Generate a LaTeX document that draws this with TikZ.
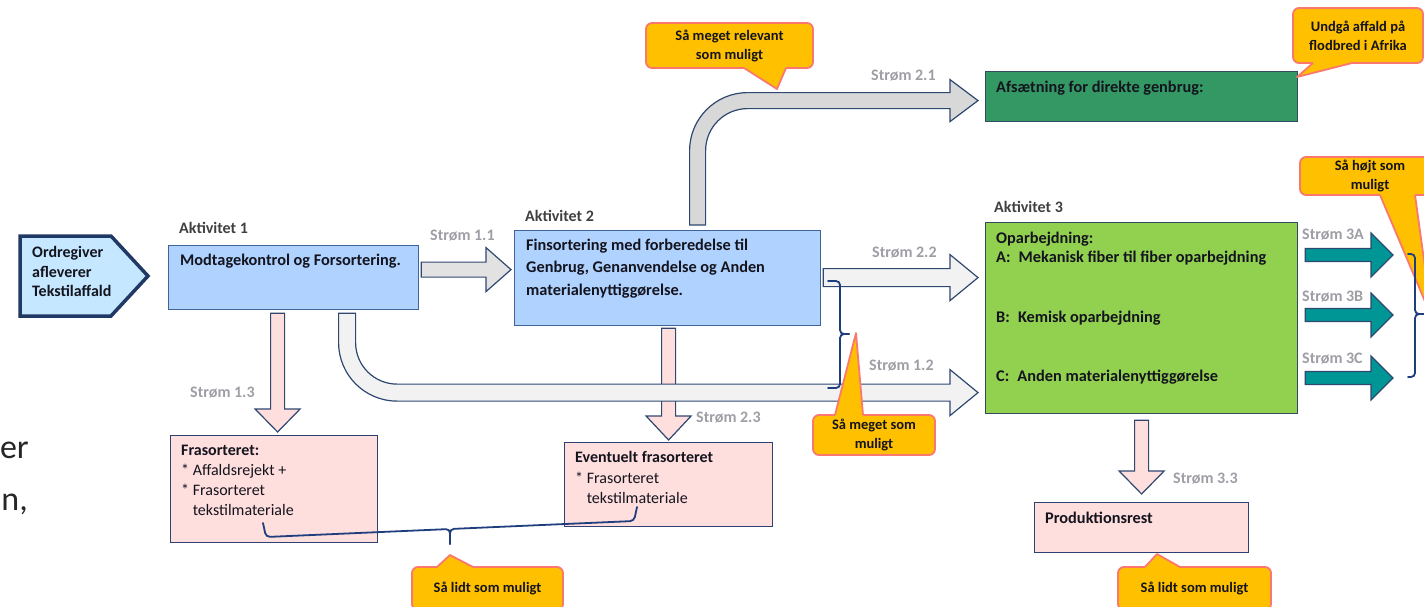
\documentclass[tikz,border=0pt]{standalone}
\usepackage{fontspec}
\setmainfont{Carlito}
\usetikzlibrary{calc}

\definecolor{boxblue}{RGB}{175,210,255}
\definecolor{boxblueedge}{RGB}{65,100,150}
\definecolor{srcfill}{RGB}{197,231,255}
\definecolor{navy}{RGB}{31,56,100}
\definecolor{greenA}{RGB}{52,152,101}
\definecolor{greenB}{RGB}{146,208,80}
\definecolor{greenedge}{RGB}{50,75,95}
\definecolor{pinkfill}{RGB}{255,222,222}
\definecolor{pinkedge}{RGB}{45,65,115}
\definecolor{arrowedge}{RGB}{47,72,112}
\definecolor{grayA}{RGB}{226,226,226}
\definecolor{grayB}{RGB}{216,216,216}
\definecolor{grayC}{RGB}{242,242,242}
\definecolor{tealfill}{RGB}{0,150,150}
\definecolor{callfill}{RGB}{255,192,0}
\definecolor{calledge}{RGB}{250,120,110}
\definecolor{flowgray}{RGB}{158,158,165}
\definecolor{actgray}{RGB}{64,64,64}
\definecolor{inktext}{RGB}{20,20,30}
\definecolor{bracecol}{RGB}{31,62,125}

\newcommand{\setfs}[2]{\fontsize{#1}{#2}\selectfont}

% block arrow pointing right: style, start, tip, shaft half width, head half width, head length
\newcommand{\rarrow}[6]{%
  \draw[#1] let \p1=(#2), \p2=(#3) in
    (\x1,{\y2+#4pt}) -- ({\x2-#6pt},{\y2+#4pt}) -- ({\x2-#6pt},{\y2+#5pt}) -- (\x2,\y2)
    -- ({\x2-#6pt},{\y2-#5pt}) -- ({\x2-#6pt},{\y2-#4pt}) -- (\x1,{\y2-#4pt}) -- cycle;}
% block arrow pointing down
\newcommand{\darrow}[6]{%
  \draw[#1] let \p1=(#2), \p2=(#3) in
    ({\x2-#4pt},\y1) -- ({\x2-#4pt},{\y2+#6pt}) -- ({\x2-#5pt},{\y2+#6pt}) -- (\x2,\y2)
    -- ({\x2+#5pt},{\y2+#6pt}) -- ({\x2+#4pt},{\y2+#6pt}) -- ({\x2+#4pt},\y1) -- cycle;}
% bent block arrow: vertical shaft, rounded corner, then right
% style, start, tip, shaft half, head half, head length, centre radius, sign (1 up, -1 down)
\newcommand{\bendarrow}[8]{%
  \draw[#1] let \p1=(#2), \p2=(#3) in
    ({\x1-#4pt},\y1) -- ({\x1-#4pt},{\y2-(#8)*#7pt})
    .. controls ({\x1-#4pt},{\y2-(#8)*#7pt+(#8)*0.5523*(#7pt+#4pt)})
            and ({\x1+#7pt-0.5523*(#7pt+#4pt)},{\y2+(#8)*#4pt}) .. ({\x1+#7pt},{\y2+(#8)*#4pt})
    -- ({\x2-#6pt},{\y2+(#8)*#4pt}) -- ({\x2-#6pt},{\y2+(#8)*#5pt}) -- (\x2,\y2)
    -- ({\x2-#6pt},{\y2-(#8)*#5pt}) -- ({\x2-#6pt},{\y2-(#8)*#4pt})
    -- ({\x1+#7pt},{\y2-(#8)*#4pt})
    .. controls ({\x1+#7pt-0.5523*(#7pt-#4pt)},{\y2-(#8)*#4pt})
            and ({\x1+#4pt},{\y2-(#8)*#7pt+(#8)*0.5523*(#7pt-#4pt)}) .. ({\x1+#4pt},{\y2-(#8)*#7pt})
    -- ({\x1+#4pt},\y1) -- cycle;}
% callout pointer: base a, tip, base b, shift into the box
\newcommand{\callptr}[4]{%
  \fill[callfill] ($#1+(0,#4)$) -- #1 -- #2 -- #3 -- ($#3+(0,#4)$) -- cycle;
  \draw[callline] #1 -- #2 -- #3;}

\tikzset{
  boxbase/.style={draw, line width=1.2pt, inner sep=0pt, anchor=north west},
  bluebox/.style={boxbase, fill=boxblue, draw=boxblueedge},
  darkgreenbox/.style={boxbase, fill=greenA, draw=greenedge},
  lightgreenbox/.style={boxbase, fill=greenB, draw=greenedge},
  pinkbox/.style={boxbase, fill=pinkfill, draw=pinkedge},
  txt/.style={inner sep=0pt, anchor=north west, align=left, text=inktext},
  act/.style={inner sep=0pt, anchor=west, text=actgray, font=\bfseries\setfs{16}{19}},
  flow/.style={inner sep=0pt, anchor=west, text=flowgray, font=\bfseries\setfs{16}{19}},
  flowbg/.style={flow, fill=white, inner sep=1pt},
  grayarrowA/.style={fill=grayA, draw=arrowedge, line width=1.2pt, line join=miter},
  grayarrowB/.style={fill=grayB, draw=arrowedge, line width=1.2pt, line join=miter},
  grayarrowC/.style={fill=grayC, draw=arrowedge, line width=1.2pt, line join=miter},
  pinkarrow/.style={fill=pinkfill, draw=arrowedge, line width=1.2pt, line join=miter},
  tealarrow/.style={fill=tealfill, draw=arrowedge, line width=1.2pt, line join=miter},
  callbody/.style={draw=calledge, fill=callfill, line width=1.8pt, rounded corners=6pt,
    inner sep=0pt, align=center, text=inktext, font=\bfseries\setfs{14.5}{19}},
  callline/.style={draw=calledge, line width=1.8pt, line join=round},
  bracestyle/.style={draw=bracecol, line width=1.8pt, rounded corners=4pt, line cap=round},
}

\begin{document}
\begin{tikzpicture}[x=1pt,y=-1pt]
\useasboundingbox (0,0) rectangle (1424,606);

% text of a neighbouring paragraph
\node[anchor=base east, inner sep=0pt, text=black!85, font=\setfs{34}{40}] (frag1) at (29,458) {er};
\node[anchor=base east, inner sep=0pt, text=black!85, font=\setfs{34}{40}] (frag2) at (28,510) {n,};

% source
\draw[fill=srcfill, draw=navy, line width=3.5pt, line join=miter]
  (20,236) -- (111,236) -- (148,276) -- (111,316) -- (20,316) -- cycle;
\node[txt, font=\bfseries\setfs{16}{19.5}] (src) at (32,246.5) {Ordregiver\\afleverer\\Tekstilaffald};

% activity boxes and outputs
\node[bluebox, minimum width=250pt, minimum height=64pt] (a1) at (168,245) {};
\node[bluebox, minimum width=306pt, minimum height=95pt] (a2) at (514,230) {};
\node[darkgreenbox, minimum width=312pt, minimum height=50pt] (g1) at (985,71) {};
\node[lightgreenbox, minimum width=312pt, minimum height=191pt] (a3) at (985,222) {};
\node[pinkbox, minimum width=207pt, minimum height=107pt] (p1) at (170,435) {};
\node[pinkbox, minimum width=208pt, minimum height=84pt] (p2) at (564,442) {};
\node[pinkbox, minimum width=214pt, minimum height=50pt] (pr) at (1034,502) {};

% connector end points
\coordinate (s11) at ($(a1.east)+(2,0)$);
\coordinate (t11) at ($(a2.west)+(-3,-8.5)$);
\coordinate (s22) at ($(a2.east)+(2,0)$);
\coordinate (t22) at ($(a3.west)+(-7,-40.5)$);
\coordinate (s21) at ($(a2.north)+(30,-5)$);
\coordinate (t21) at ($(g1.west)+(-7,4)$);
\coordinate (s12) at ($(a1.south)+(53.5,3)$);
\coordinate (t12) at ($(a3.west)+(-7,74.5)$);
\coordinate (s13) at ($(a1.south)+(-16,3)$);
\coordinate (t13) at ($(p1.north)+(3.5,-3)$);
\coordinate (s23) at ($(a2.south)+(0,2)$);
\coordinate (t23) at ($(p2.north)+(0,-2)$);
\coordinate (s33) at ($(a3.south)+(0,6)$);
\coordinate (t33) at ($(pr.north)+(0,-8)$);
\coordinate (s3A) at ($(a3.east)+(7,0)$);
\coordinate (o3A) at (1393,255);
\coordinate (o3B) at (1393,315);
\coordinate (o3C) at (1393,378);

% flows
\rarrow{grayarrowA}{s11}{t11}{7.5}{22}{25}
\rarrow{grayarrowC}{s22}{t22}{9}{23}{28}
\bendarrow{grayarrowB}{s21}{t21}{8}{21}{28}{50}{1}
\darrow{pinkarrow}{s23}{t23}{7}{22.5}{24}
\darrow{pinkarrow}{s13}{t13}{7}{22.5}{23}
\darrow{pinkarrow}{s33}{t33}{7}{22.5}{23}
\bendarrow{grayarrowC}{s12}{t12}{8.5}{23}{28}{50}{-1}
\rarrow{tealarrow}{s3A}{o3A}{6.5}{22}{22}
\rarrow{tealarrow}{s3A}{o3B}{6.5}{22}{22}
\rarrow{tealarrow}{s3A}{o3C}{6.5}{22}{22}

% box texts
\node[txt, font=\bfseries\setfs{16.3}{19.5}] (a1t) at ($(a1.north west)+(12,8.5)$) {Modtagekontrol og Forsortering.};
\node[txt, font=\bfseries\setfs{16.3}{22.5}] (a2t) at ($(a2.north west)+(12,8.5)$)
  {Finsortering med forberedelse til\\Genbrug, Genanvendelse og Anden\\materialenyttiggørelse.};
\node[txt, font=\bfseries\setfs{16.3}{19.5}] (g1t) at ($(g1.north west)+(11,9.5)$) {Afsætning for direkte genbrug:};
\node[txt, font=\bfseries\setfs{16.3}{19.8}] (a3t) at ($(a3.north west)+(11,9.5)$)
  {Oparbejdning:\\A:\hspace{0.5em}Mekanisk fiber til fiber oparbejdning\\[39.6pt]
   B:\hspace{0.5em}Kemisk oparbejdning\\[39.6pt]C:\hspace{0.5em}Anden materialenyttiggørelse};
\node[txt, font=\setfs{16}{20}] (p1t) at ($(p1.north west)+(11,9.5)$)
  {\textbf{Frasorteret:}\\* Affaldsrejekt +\\* Frasorteret\\\phantom{* }tekstilmateriale};
\node[txt, font=\setfs{16}{20.5}] (p2t) at ($(p2.north west)+(11,9.5)$)
  {\textbf{Eventuelt frasorteret}\\* Frasorteret\\\phantom{* }tekstilmateriale};
\node[txt, font=\bfseries\setfs{16.3}{19.5}] (prt) at ($(pr.north west)+(11,9.5)$) {Produktionsrest};

% activity titles
\node[act] (act1) at (179,228) {Aktivitet 1};
\node[act] (act2) at (525,216) {Aktivitet 2};
\node[act] (act3) at (994,207) {Aktivitet 3};

% flow labels
\node[flow] (l11) at (430,236) {Strøm 1.1};
\node[flow] (l21) at (871,76) {Strøm 2.1};
\node[flow] (l22) at (872,253) {Strøm 2.2};
\node[flow] (l12) at (869,366) {Strøm 1.2};
\node[flow] (l13) at (190,393) {Strøm 1.3};
\node[flow] (l23) at (696,418) {Strøm 2.3};
\node[flow] (l33) at (1173,479) {Strøm 3.3};
\node[flowbg] (l3A) at (1301,235) {Strøm 3A};
\node[flowbg] (l3B) at (1301,297) {Strøm 3B};
\node[flowbg] (l3C) at (1301,359) {Strøm 3C};

% callouts
\node[callbody, minimum width=167pt, minimum height=45pt] (c1) at (729.5,45.5) {Så meget relevant\\som muligt};
\callptr{(744,68)}{(777,89)}{(786,68)}{-2.5}
\node[callbody, minimum width=130pt, minimum height=55pt] (c2) at (1358,35.5) {Undgå affald på\\flodbred i Afrika};
\callptr{(1313,63)}{(1297,77)}{(1352,63)}{-2.5}
\node[callbody, minimum width=140pt, minimum height=38pt] (c3) at (1370,176) {Så højt som\\muligt};
\callptr{(1380,195)}{(1432,318)}{(1415,195)}{-2.5}
\node[callbody, minimum width=122pt, minimum height=40pt] (c4) at (874,435) {Så meget som\\muligt};
\callptr{(835,415)}{(856,333)}{(863,415)}{2.5}
\node[callbody, minimum width=151pt, minimum height=43pt] (c5) at (487.5,588.5) {Så lidt som muligt};
\callptr{(437,567)}{(450,555)}{(473,567)}{2.5}
\node[callbody, minimum width=153pt, minimum height=43pt] (c6) at (1194.5,588.5) {Så lidt som muligt};
\callptr{(1145,567)}{(1157,554)}{(1180,567)}{2.5}

% braces grouping flows
\coordinate (b1a) at (828,281);
\coordinate (b1m) at (849,334);
\coordinate (b1b) at (828,388);
\draw[bracestyle] (b1a) -- (840,281) -- (840,334) -- (b1m);
\draw[bracestyle] (b1m) -- (840,334) -- (840,388) -- (b1b);
\coordinate (b2a) at (263,523);
\coordinate (b2m) at (450,544);
\coordinate (b2b) at (637,507);
\draw[bracestyle] (b2a) -- (266,537) -- (450,529) -- (b2m);
\draw[bracestyle] (b2m) -- (450,529) -- (634,521) -- (b2b);
\coordinate (b3a) at (1408,254);
\coordinate (b3m) at (1426,314);
\coordinate (b3b) at (1408,377);
\draw[bracestyle] (b3a) -- (1415,254) -- (1415,314) -- (b3m);
\draw[bracestyle] (b3m) -- (1415,314) -- (1415,377) -- (b3b);
\end{tikzpicture}
\end{document}
